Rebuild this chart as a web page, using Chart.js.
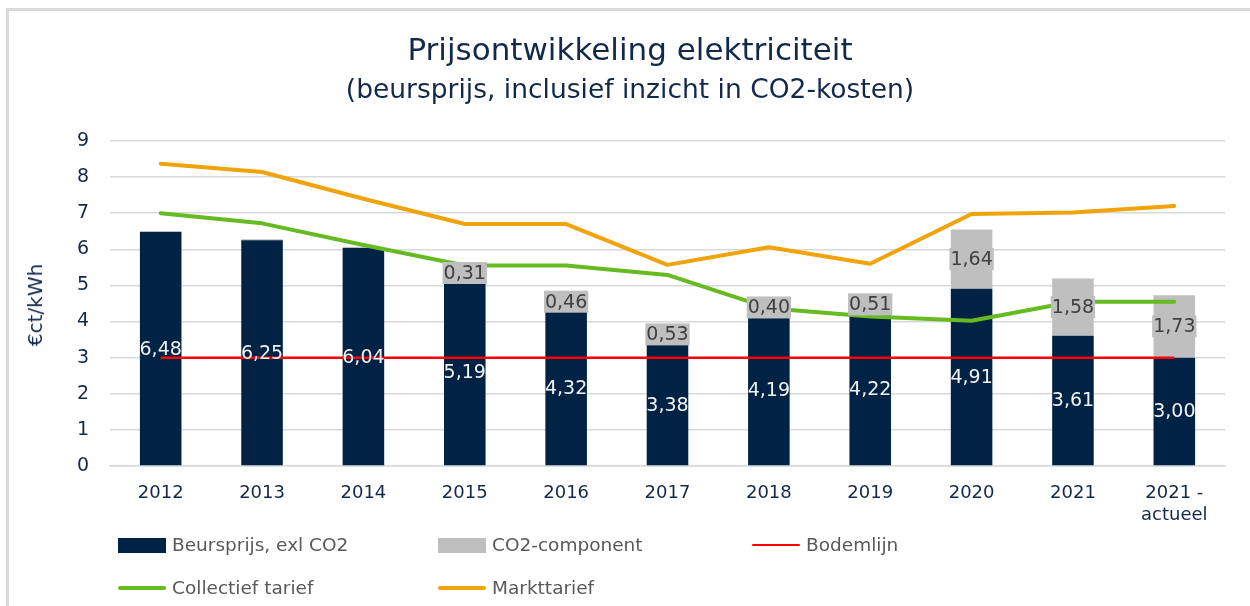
<!DOCTYPE html>
<html>
<head>
<meta charset="utf-8">
<script src="https://cdn.jsdelivr.net/npm/chart.js@4/dist/chart.umd.min.js"></script>
<style>
  html, body { margin: 0; padding: 0; background: #fff; }
  body { width: 1250px; height: 606px; position: relative; overflow: hidden;
         font-family: "DejaVu Sans", sans-serif; }
  #frame { position: absolute; left: 6px; top: 8px; width: 1300px; height: 700px;
           border-left: 3px solid #d9d9d9; border-top: 3px solid #d9d9d9; }
  #wrap { position: absolute; left: 0; top: 0; width: 1250px; height: 606px; }
  .title { position: absolute; left: 0; width: 1260px; text-align: center; color: #13294B; white-space: nowrap; }
  #t1 { top: 31px; font-size: 31px; }
  #t2 { top: 73px; font-size: 26.5px; }
  #ytitle { position: absolute; left: 35px; top: 305px; transform: translate(-50%, -50%) rotate(-90deg);
            font-size: 20px; color: #13294B; white-space: nowrap; }
  .leg { position: absolute; font-size: 18.5px; color: #595959; white-space: nowrap; height: 22px; line-height: 22px; }
  .sw { position: absolute; left: 0; }
  .lt { position: absolute; left: 54px; top: 0; }
</style>
</head>
<body>
<div id="frame"></div>
<div id="wrap"><canvas id="c" width="1250" height="606"></canvas></div>
<div class="title" id="t1">Prijsontwikkeling elektriciteit</div>
<div class="title" id="t2">(beursprijs, inclusief inzicht in CO2-kosten)</div>
<div id="ytitle">€ct/kWh</div>
<div id="legend"></div>
<script>
const categories = ['2012','2013','2014','2015','2016','2017','2018','2019','2020','2021',['2021 -','actueel']];
const beursprijs = [6.48, 6.25, 6.04, 5.19, 4.32, 3.38, 4.19, 4.22, 4.91, 3.61, 3.00];
const co2Component = [0.03, 0.03, 0.03, 0.31, 0.46, 0.53, 0.40, 0.51, 1.64, 1.58, 1.73];
const bodemlijn = [3, 3, 3, 3, 3, 3, 3, 3, 3, 3, 3];
const collectiefTarief = [7.00, 6.72, 6.12, 5.55, 5.55, 5.29, 4.37, 4.14, 4.02, 4.55, 4.55];
const marktTarief = [8.37, 8.14, 7.40, 6.70, 6.70, 5.57, 6.06, 5.60, 6.98, 7.02, 7.20];
const yTicks = [0, 1, 2, 3, 4, 5, 6, 7, 8, 9];

const NAVY = '#002244';
const GREY = '#BFBFBF';
const FONT = '"DejaVu Sans", sans-serif';
const fmt = v => v.toFixed(2).replace('.', ',');

const labelPlugin = {
  id: 'valueLabels',
  afterDatasetsDraw(chart) {
    const ctx = chart.ctx;
    ctx.save();
    ctx.font = '19px ' + FONT;
    ctx.textAlign = 'center';
    ctx.textBaseline = 'middle';
    [0, 1].forEach(di => {
      const meta = chart.getDatasetMeta(di);
      const data = chart.data.datasets[di].data;
      meta.data.forEach((bar, i) => {
        const v = data[i];
        if (v < 0.1) return;
        const yc = (bar.y + bar.base) / 2;
        const txt = fmt(v);
        if (di === 1) {
          const w = ctx.measureText(txt).width;
          ctx.fillStyle = GREY;
          ctx.fillRect(bar.x - w / 2 - 1, yc - 11, w + 2, 22);
          ctx.fillStyle = '#404040';
        } else {
          ctx.fillStyle = '#f2f2f2';
        }
        ctx.fillText(txt, bar.x, yc + 1);
      });
    });
    ctx.restore();
  }
};

const chart = new Chart(document.getElementById('c'), {
  type: 'bar',
  data: {
    labels: categories,
    datasets: [
      { label: 'Beursprijs, exl CO2', data: beursprijs, backgroundColor: NAVY, stack: 'bars', order: 2,
        barPercentage: 0.41, categoryPercentage: 1 },
      { label: 'CO2-component', data: co2Component, backgroundColor: GREY, stack: 'bars', order: 2,
        barPercentage: 0.41, categoryPercentage: 1 },
      { type: 'line', label: 'Bodemlijn', data: bodemlijn, borderColor: '#FF0000', backgroundColor: '#FF0000',
        borderWidth: 2.5, pointRadius: 0, stack: 's1', order: 1, tension: 0 },
      { type: 'line', label: 'Collectief tarief', data: collectiefTarief, borderColor: '#66BB22', backgroundColor: '#66BB22',
        borderWidth: 4, pointRadius: 0, stack: 's2', order: 0, tension: 0, borderCapStyle: 'round', borderJoinStyle: 'round' },
      { type: 'line', label: 'Markttarief', data: marktTarief, borderColor: '#F0A30A', backgroundColor: '#F0A30A',
        borderWidth: 4, pointRadius: 0, stack: 's3', order: 0, tension: 0, borderCapStyle: 'round', borderJoinStyle: 'round' }
    ]
  },
  options: {
    responsive: false,
    animation: false,
    layout: { padding: { top: 141, right: 25, bottom: 0, left: 0 } },
    plugins: { legend: { display: false }, tooltip: { enabled: false }, title: { display: false } },
    scales: {
      x: {
        stacked: true,
        grid: { display: false, drawTicks: false },
        border: { display: true, color: '#d9d9d9', width: 1.5 },
        ticks: { color: '#13294B', font: { family: FONT, size: 18 }, padding: 17, maxRotation: 0, autoSkip: false },
        afterFit: s => { s.height = 140; }
      },
      y: {
        stacked: true,
        min: 0, max: 9,
        afterBuildTicks: s => { s.ticks = yTicks.map(v => ({ value: v })); },
        grid: { color: '#d9d9d9', lineWidth: 1.5, drawTicks: false },
        border: { display: false },
        ticks: { color: '#13294B', font: { family: FONT, size: 19 }, padding: 21 },
        afterFit: s => { s.width = 110; }
      }
    }
  },
  plugins: [labelPlugin]
});

// HTML legend built from the datasets
const legendPos = [[118, 534], [438, 534], [752, 534], [118, 577], [438, 577]];
const legendEl = document.getElementById('legend');
chart.data.datasets.forEach((ds, i) => {
  const d = document.createElement('div');
  d.className = 'leg';
  d.style.left = legendPos[i][0] + 'px';
  d.style.top = legendPos[i][1] + 'px';
  const sw = document.createElement('div');
  sw.className = 'sw';
  if (ds.type === 'line') {
    sw.style.top = (11 - ds.borderWidth / 2) + 'px';
    sw.style.width = '48px';
    sw.style.height = ds.borderWidth + 'px';
    sw.style.borderRadius = '2px';
    sw.style.background = ds.borderColor;
  } else {
    sw.style.top = '4px';
    sw.style.width = '48px';
    sw.style.height = '15px';
    sw.style.background = ds.backgroundColor;
  }
  const t = document.createElement('div');
  t.className = 'lt';
  t.textContent = ds.label;
  d.appendChild(sw); d.appendChild(t);
  legendEl.appendChild(d);
});
</script>
</body>
</html>
